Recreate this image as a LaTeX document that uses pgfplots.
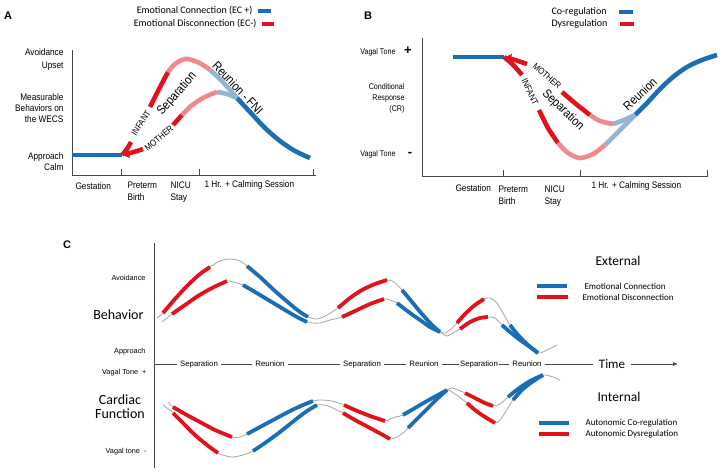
\documentclass[border=0pt]{standalone}
\usepackage{fontspec}
\setmainfont{Liberation Sans}
\newfontfamily\nar[FakeStretch=0.87]{Liberation Sans}
\newfontfamily\calib{Carlito}
\usepackage{pgfplots}
\pgfplotsset{compat=1.18}
\usepackage{pgfplotstable}
\usetikzlibrary{arrows.meta}
\definecolor{cblue}{RGB}{26,110,182}
\definecolor{cred}{RGB}{226,18,28}
\definecolor{cpink}{RGB}{240,138,138}
\definecolor{clblue}{RGB}{148,180,212}
\definecolor{cgray}{RGB}{165,165,165}
\definecolor{axisgray}{RGB}{70,70,70}
\definecolor{tgray}{RGB}{45,45,45}
\newcommand{\fs}[2]{\fontsize{#1}{#2}\selectfont}
\newcommand{\seg}[4]{\addplot[draw=#1,line width=#2,smooth,restrict x to domain=#3,forget plot] table[x=x,y=y]{#4};}
\pgfplotsset{panel/.style={x=1pt,y=1pt,anchor=south west,clip=false,
  axis line style={-,draw=axisgray,line width=0.9pt},
  tick style={draw=axisgray,line width=0.8pt},tick align=inside,major tick length=6pt,
  ytick=\empty,every node/.append style={text=tgray}}}

% ---------- Panel A ----------
\pgfplotstableread{
x y
122 -155
127 -149
131 -142
140 -125
150 -107
158 -91
168 -72
175 -64
185 -59
195 -61
203 -65
210 -70
220 -79
230 -90
237 -98
250 -112
265 -128
280 -141
295 -151
310 -158
}\infA
\pgfplotstableread{
x y
122 -155
130 -153
137 -151
143 -149
152 -143
162 -135
173 -125
182 -115
190 -107
198 -101
207 -96
217 -92
227 -94
237 -98
}\motA
% ---------- Panel B ----------
\pgfplotstableread{
x y
504 -57
515 -60
527 -64
545 -77
562 -92
576 -104
590 -115
600 -121
613 -124
624 -120
635 -115
}\motB
\pgfplotstableread{
x y
504 -57
510 -62
516 -68
522 -75
530 -92
539 -110
548 -128
558 -143
568 -153
580 -158
593 -154
605 -145
620 -130
635 -115
}\infB
\pgfplotstableread{
x y
635 -115
648 -102
660 -89
673 -77
687 -67
702 -60
717 -55
}\riseB
% ---------- Panel C ----------
\pgfplotstableread{
x y
157 -318
163 -313
175 -299
188 -285
200 -274
210 -267
220 -261
230 -259
240 -261
247 -266
260 -277
275 -291
290 -304
300 -312
308 -317
317 -319
327 -315
338 -308
350 -298
362 -290
375 -284
387 -280
394 -282
402 -290
412 -302
422 -314
432 -325
440 -332
445 -333
451 -329
457 -323
466 -313
475 -305
484 -299
490 -298
497 -303
503 -313
510 -325
518 -335
528 -345
538 -353
547 -350
557 -345
}\BU
\pgfplotstableread{
x y
162 -322
172 -314
185 -305
198 -296
212 -288
227 -281
233 -282
243 -285
255 -292
270 -301
285 -310
297 -317
307 -322
313 -323
320 -323
330 -320
342 -317
355 -311
370 -304
384 -299
390 -300
397 -303
410 -313
420 -320
430 -327
440 -332
447 -336
453 -333
460 -329
470 -322
480 -318
488 -317
495 -318
502 -325
510 -332
520 -340
530 -347
538 -353
}\BL
\pgfplotstableread{
x y
168 -402
173 -407
185 -414
200 -422
215 -430
232 -437
240 -437
247 -434
260 -427
275 -419
290 -411
303 -405
313 -401
320 -400
332 -401
344 -405
355 -410
370 -416
385 -421
390 -419
396 -417
403 -415
415 -408
427 -401
438 -395
447 -390
452 -388
458 -390
465 -393
475 -398
485 -403
493 -406
500 -404
508 -397
518 -389
530 -381
543 -375
553 -377
560 -380
}\CU
\pgfplotstableread{
x y
163 -405
173 -413
183 -423
195 -435
207 -445
218 -453
226 -456
233 -457
243 -455
253 -451
265 -443
280 -432
295 -420
307 -411
317 -405
328 -406
343 -413
355 -420
370 -428
383 -435
390 -439
397 -437
403 -433
408 -428
418 -418
428 -408
438 -398
447 -390
455 -394
467 -403
475 -410
485 -417
495 -423
500 -420
506 -411
513 -400
522 -390
532 -382
543 -375
}\CL

\begin{document}
\begin{tikzpicture}
\path[use as bounding box] (0pt,0pt) rectangle (727pt,-473pt);

% ================= PANEL A =================
\begin{axis}[panel,at={(72pt,-175pt)},xmin=72,xmax=316,ymin=-175,ymax=-50,
  axis x line*=bottom,axis y line*=left,xtick={121,199,313},xticklabels={,,}]
\addplot[draw=cblue,line width=4.6pt,forget plot] coordinates {(72,-155) (122,-155)};
\seg{cred}{4.6pt}{150:168}{\infA}
\seg{cpink}{4.6pt}{168:210}{\infA}
\seg{clblue}{4.6pt}{210:237}{\infA}
\seg{cblue}{4.6pt}{237:310}{\infA}
\addplot[draw=cred,line width=4.6pt,smooth,restrict x to domain=122:131,forget plot] table[x=x,y=y]{\infA};
\addplot[draw=cred,line width=4.6pt,smooth,restrict x to domain=122:143,forget plot,{Latex[length=7pt,width=11pt]}-] table[x=x,y=y]{\motA};
\seg{cred}{4.6pt}{173:182}{\motA}
\seg{cpink}{4.6pt}{182:217}{\motA}
\seg{clblue}{4.6pt}{217:237}{\motA}
% legend A
\addplot[draw=cblue,line width=4pt,forget plot] coordinates {(258,-11) (271,-11)};
\addplot[draw=cred,line width=4pt,forget plot] coordinates {(262,-24) (274,-24)};
\node[anchor=east,font=\calib\fs{10}{12}] at (axis cs:256,-11) {Emotional Connection (EC +)};
\node[anchor=east,font=\calib\fs{10}{12}] at (axis cs:260,-24) {Emotional Disconnection (EC-)};
\node[font=\bfseries\fs{11}{12},text=black] at (axis cs:8,-16) {A};
% y labels
\node[anchor=east,align=right,font=\nar\fs{9.5}{12.5}] at (axis cs:67,-59.5) {Avoidance\\Upset};
\node[anchor=east,align=right,font=\nar\fs{9.5}{11}] at (axis cs:67,-108) {Measurable\\Behaviors on\\the WECS};
\node[anchor=east,align=right,font=\nar\fs{9.5}{11.5}] at (axis cs:67,-161.5) {Approach\\Calm};
% x labels
\node[anchor=west,font=\nar\fs{9.5}{12}] at (axis cs:72,-186) {Gestation};
\node[anchor=north west,align=left,font=\nar\fs{9.5}{12}] at (axis cs:124,-178) {Preterm\\Birth};
\node[anchor=north west,align=left,font=\nar\fs{9.5}{12}] at (axis cs:167,-178) {NICU\\Stay};
\node[anchor=west,font=\nar\fs{9.5}{12}] at (axis cs:201,-185) {1 Hr. + Calming Session};
% curve labels
\node[rotate=49,font=\nar\fs{12.5}{13}] at (axis cs:177,-94) {Separation};
\node[rotate=-47,font=\nar\fs{12.5}{13}] at (axis cs:238,-88) {Reunion - FNI};
\node[rotate=57,font=\nar\fs{9}{10}] at (axis cs:141,-123) {INFANT};
\node[rotate=40,font=\nar\fs{9}{10}] at (axis cs:159,-138) {MOTHER};
\end{axis}

% ================= PANEL B =================
\begin{axis}[panel,at={(422pt,-176pt)},xmin=422,xmax=708,ymin=-176,ymax=-38,
  axis x line*=bottom,axis y line*=left,xtick={503,580,707},xticklabels={,,}]
\addplot[draw=cblue,line width=4.6pt,forget plot] coordinates {(453,-57) (504,-57)};
\addplot[draw=cblue,line width=4.6pt,smooth,forget plot] table[x=x,y=y]{\riseB};
\addplot[draw=cred,line width=4.6pt,smooth,restrict x to domain=504:527,forget plot,{Latex[length=7pt,width=11pt]}-] table[x=x,y=y]{\motB};
\seg{cred}{4.6pt}{562:590}{\motB}
\seg{cpink}{4.6pt}{590:613}{\motB}
\seg{clblue}{4.6pt}{613:635}{\motB}
\addplot[draw=cred,line width=4.6pt,smooth,restrict x to domain=504:522,forget plot] table[x=x,y=y]{\infB};
\seg{cred}{4.6pt}{539:558}{\infB}
\seg{cpink}{4.6pt}{558:605}{\infB}
\seg{clblue}{4.6pt}{605:635}{\infB}
% legend B
\addplot[draw=cblue,line width=4pt,forget plot] coordinates {(619,-12) (633,-12)};
\addplot[draw=cred,line width=4pt,forget plot] coordinates {(620,-24) (634,-24)};
\node[anchor=west,font=\calib\fs{10}{12}] at (axis cs:548,-12) {Co-regulation};
\node[anchor=west,font=\calib\fs{10}{12}] at (axis cs:548,-24) {Dysregulation};
\node[font=\bfseries\fs{11}{12},text=black] at (axis cs:368,-16) {B};
% y labels
\node[anchor=east,font=\nar\fs{8.2}{10}] at (axis cs:399,-52) {Vagal Tone};
\node[font=\bfseries\fs{13}{13},text=black] at (axis cs:408,-51) {+};
\node[anchor=east,align=right,font=\nar\fs{8.2}{11}] at (axis cs:408,-98) {Conditional\\Response\\(CR)};
\node[anchor=east,font=\nar\fs{8.2}{10}] at (axis cs:399,-154) {Vagal Tone};
\node[font=\bfseries\fs{13}{13},text=black] at (axis cs:410,-154) {-};
% x labels
\node[anchor=west,font=\nar\fs{9.5}{12}] at (axis cs:452,-188) {Gestation};
\node[anchor=north west,align=left,font=\nar\fs{9.5}{12}] at (axis cs:495,-182) {Preterm\\Birth};
\node[anchor=north west,align=left,font=\nar\fs{9.5}{12}] at (axis cs:541,-182) {NICU\\Stay};
\node[anchor=west,font=\nar\fs{9.5}{12}] at (axis cs:588,-186) {1 Hr. + Calming Session};
% curve labels
\node[rotate=-41,font=\nar\fs{9}{10}] at (axis cs:547,-76) {MOTHER};
\node[rotate=-65,font=\nar\fs{9}{10}] at (axis cs:530,-92) {INFANT};
\node[rotate=-44,font=\nar\fs{12.5}{13}] at (axis cs:563,-110) {Separation};
\node[rotate=43,font=\nar\fs{12.5}{13}] at (axis cs:640,-94) {Reunion};
\end{axis}

% ================= PANEL C =================
\begin{axis}[panel,at={(154pt,-468pt)},xmin=154,xmax=680,ymin=-468,ymax=-243,
  axis x line=none,axis y line*=left,xtick=\empty]
% time axis
\addplot[draw=axisgray,line width=0.8pt,-{Latex[length=5pt,width=4pt]},forget plot] coordinates {(154,-364) (678,-364)};
% thin gray curves
\addplot[draw=cgray,line width=0.8pt,smooth,forget plot] table[x=x,y=y]{\BU};
\addplot[draw=cgray,line width=0.8pt,smooth,forget plot] table[x=x,y=y]{\BL};
\addplot[draw=cgray,line width=0.8pt,smooth,forget plot] table[x=x,y=y]{\CU};
\addplot[draw=cgray,line width=0.8pt,smooth,forget plot] table[x=x,y=y]{\CL};
% behavior upper
\seg{cred}{3.8pt}{163:210}{\BU}
\seg{cblue}{3.8pt}{247:308}{\BU}
\seg{cred}{3.8pt}{338:387}{\BU}
\seg{cblue}{3.8pt}{402:440}{\BU}
\seg{cred}{3.8pt}{457:484}{\BU}
\seg{cblue}{3.8pt}{510:538}{\BU}
% behavior lower
\seg{cred}{3.8pt}{172:227}{\BL}
\seg{cblue}{3.8pt}{243:307}{\BL}
\seg{cred}{3.8pt}{342:384}{\BL}
\seg{cblue}{3.8pt}{397:440}{\BL}
\seg{cred}{3.8pt}{460:488}{\BL}
\seg{cblue}{3.8pt}{502:538}{\BL}
% cardiac upper
\seg{cred}{3.8pt}{173:232}{\CU}
\seg{cblue}{3.8pt}{247:313}{\CU}
\seg{cred}{3.8pt}{344:385}{\CU}
\seg{cblue}{3.8pt}{403:447}{\CU}
\seg{cred}{3.8pt}{465:493}{\CU}
\seg{cblue}{3.8pt}{508:543}{\CU}
% cardiac lower
\seg{cred}{3.8pt}{173:218}{\CL}
\seg{cblue}{3.8pt}{253:317}{\CL}
\seg{cred}{3.8pt}{343:390}{\CL}
\seg{cblue}{3.8pt}{408:447}{\CL}
\seg{cred}{3.8pt}{467:495}{\CL}
\seg{cblue}{3.8pt}{513:543}{\CL}
% legend swatches
\addplot[draw=cblue,line width=3.8pt,forget plot] coordinates {(537,-286) (567,-286)};
\addplot[draw=cred,line width=3.8pt,forget plot] coordinates {(537,-297) (568,-297)};
\addplot[draw=cblue,line width=3.8pt,forget plot] coordinates {(539,-423) (569,-423)};
\addplot[draw=cred,line width=3.8pt,forget plot] coordinates {(539,-434) (569,-434)};
\node[anchor=west,font=\calib\fs{9}{10}] at (axis cs:581,-286) {Emotional Connection};
\node[anchor=west,font=\calib\fs{9}{10}] at (axis cs:579,-297) {Emotional Disconnection};
\node[anchor=west,font=\calib\fs{9}{10}] at (axis cs:582,-423) {Autonomic Co-regulation};
\node[anchor=west,font=\calib\fs{9}{10}] at (axis cs:582,-434) {Autonomic Dysregulation};
\node[font=\calib\fs{13.5}{14}] at (axis cs:618,-261) {External};
\node[font=\calib\fs{13.5}{14}] at (axis cs:619,-397) {Internal};
% time labels
\node[fill=white,inner xsep=3pt,inner ysep=1pt,font=\fs{7.8}{9}] at (axis cs:199,-364) {Separation};
\node[fill=white,inner xsep=3pt,inner ysep=1pt,font=\fs{7.8}{9}] at (axis cs:270,-364) {Reunion};
\node[fill=white,inner xsep=3pt,inner ysep=1pt,font=\fs{7.8}{9}] at (axis cs:362,-364) {Separation};
\node[fill=white,inner xsep=3pt,inner ysep=1pt,font=\fs{7.8}{9}] at (axis cs:424,-364) {Reunion};
\node[fill=white,inner xsep=1pt,inner ysep=1pt,font=\fs{7.8}{9}] at (axis cs:479,-364) {Separation};
\node[fill=white,inner xsep=3pt,inner ysep=1pt,font=\fs{7.8}{9}] at (axis cs:527,-364) {Reunion};
\node[fill=white,inner xsep=6pt,inner ysep=1pt,font=\calib\fs{13}{14}] at (axis cs:612,-364) {Time};
% left labels
\node[font=\bfseries\fs{11}{12},text=black] at (axis cs:67,-245) {C};
\node[anchor=east,font=\fs{7.3}{9}] at (axis cs:149,-278) {Avoidance};
\node[anchor=east,font=\calib\fs{14}{14}] at (axis cs:147,-315) {Behavior};
\node[anchor=east,font=\fs{7.3}{9}] at (axis cs:149,-352) {Approach};
\node[anchor=east,font=\fs{7.3}{9}] at (axis cs:150,-373) {Vagal Tone~~+};
\node[align=center,font=\calib\fs{14}{14}] at (axis cs:120,-407) {Cardiac\\Function};
\node[anchor=east,font=\fs{7.3}{9}] at (axis cs:150,-452) {Vagal tone~~-};
\end{axis}
\end{tikzpicture}
\end{document}
